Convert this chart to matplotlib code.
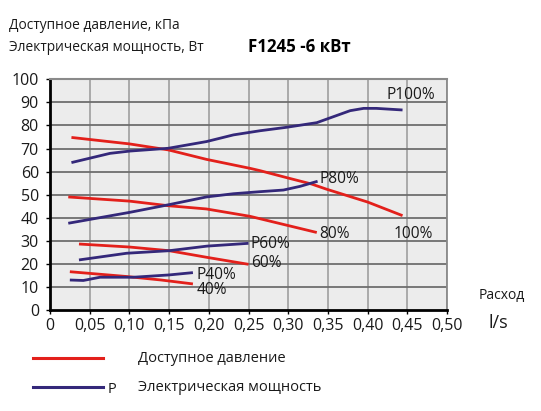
import numpy as np
import matplotlib.pyplot as plt

plt.rcParams['font.family'] = ['Open Sans', 'DejaVu Sans']

# Доступное давление (red) curves, kPa
p100_x = [0.027, 0.10, 0.149, 0.197, 0.252, 0.2645, 0.30, 0.3295, 0.348, 0.40, 0.444]
p100_y = [74.8, 72.0, 69.4, 65.3, 61.4, 60.4, 57.2, 54.6, 52.4, 46.8, 40.9]
p80_x = [0.023, 0.10, 0.149, 0.197, 0.252, 0.30, 0.336]
p80_y = [49.0, 47.2, 45.2, 43.8, 40.6, 36.6, 33.6]
p60_x = [0.0365, 0.10, 0.15, 0.198, 0.25]
p60_y = [28.6, 27.3, 25.7, 22.8, 19.8]
p40_x = [0.025, 0.097, 0.14, 0.18]
p40_y = [16.6, 14.5, 13.0, 11.3]

# Электрическая мощность (blue) curves
e100_x = [0.027, 0.0756, 0.1008, 0.149, 0.197, 0.231, 0.2645, 0.298,
          0.336, 0.357, 0.378, 0.395, 0.411, 0.444]
e100_y = [63.9, 67.9, 68.9, 70.1, 73.0, 75.9, 77.7, 79.2,
          81.2, 83.8, 86.4, 87.4, 87.4, 86.7]
e80_x = [0.023, 0.10, 0.149, 0.197, 0.231, 0.265, 0.294, 0.315, 0.337]
e80_y = [37.6, 42.3, 45.6, 49.0, 50.4, 51.3, 52.0, 53.6, 55.8]
e60_x = [0.0365, 0.0966, 0.15, 0.198, 0.25]
e60_y = [21.7, 24.6, 25.7, 27.7, 28.9]
e40_x = [0.025, 0.042, 0.063, 0.105, 0.15, 0.18]
e40_y = [13.0, 12.8, 14.2, 14.2, 15.2, 16.2]

red_curves = [(p100_x, p100_y), (p80_x, p80_y), (p60_x, p60_y), (p40_x, p40_y)]
blue_curves = [(e100_x, e100_y), (e80_x, e80_y), (e60_x, e60_y), (e40_x, e40_y)]

labels = [('P100%', 0.424, 93.4), ('100%', 0.433, 33.0),
          ('P80%', 0.339, 57.0), ('80%', 0.339, 33.0),
          ('P60%', 0.253, 28.4), ('60%', 0.253, 20.3),
          ('P40%', 0.185, 15.3), ('40%', 0.185, 8.6)]

xticks = np.arange(0, 0.501, 0.05)
yticks = np.arange(0, 101, 10)

red = '#e3201b'
blue = '#34287a'
txt = '#1a1a1a'

fig = plt.figure(figsize=(5.41, 4.11), dpi=100)
ax = fig.add_axes([50 / 541, 101 / 411, 397 / 541, 230.7 / 411])
ax.set_facecolor('#ececec')

for x, y in red_curves:
    ax.plot(x, y, color=red, lw=2.0, solid_capstyle='butt', zorder=3)
for x, y in blue_curves:
    ax.plot(x, y, color=blue, lw=2.0, solid_capstyle='butt', zorder=3)

for s, x, y in labels:
    ax.text(x, y, s, fontsize=11.2, color=txt, va='center', ha='left', zorder=4)

ax.set_xlim(0, 0.5)
ax.set_ylim(0, 100)
ax.set_xticks(xticks)
ax.set_yticks(yticks)
ax.set_xticklabels([('%.2f' % v).replace('.', ',') if v > 0 else '0' for v in xticks])
ax.set_yticklabels([str(int(v)) for v in yticks])
ax.tick_params(axis='both', labelsize=11.5, labelcolor=txt, length=3, width=1, color='black')
ax.tick_params(axis='x', pad=3)
ax.tick_params(axis='y', pad=5)

for v in xticks[1:]:
    ax.axvline(v, color='#a5a5a5', lw=1.3, zorder=1)
for v in yticks[1:]:
    ax.axhline(v, color='#6e6e6e', lw=1.3, zorder=1)

ax.spines['left'].set_color('black')
ax.spines['left'].set_linewidth(2)
ax.spines['bottom'].set_color('black')
ax.spines['bottom'].set_linewidth(2)
ax.spines['top'].set_color('#8a8a8a')
ax.spines['top'].set_linewidth(1.5)
ax.spines['right'].set_color('#8a8a8a')
ax.spines['right'].set_linewidth(1.3)

fig.text(9 / 541, 1 - 25.7 / 411, 'Доступное давление, кПа', fontsize=9.9, color=txt, va='center')
fig.text(9 / 541, 1 - 47.7 / 411, 'Электрическая мощность, Вт', fontsize=9.9, color=txt, va='center')
fig.text(248 / 541, 1 - 47 / 411, 'F1245 -6 кВт', fontsize=12.2, fontweight='bold', color='black', va='center')
fig.text(479 / 541, 1 - 295 / 411, 'Расход', fontsize=10, color=txt, va='center')
fig.text(489 / 541, 1 - 323 / 411, 'l/s', fontsize=13, color=txt, va='center')

# legend drawn by hand
fig.add_artist(plt.Line2D([33 / 541, 103 / 541], [1 - 358 / 411] * 2, color=red, lw=2.2))
fig.add_artist(plt.Line2D([33 / 541, 103 / 541], [1 - 387 / 411] * 2, color=blue, lw=2.2))
fig.text(108 / 541, 1 - 389 / 411, 'P', fontsize=10.5, color=txt, va='center')
fig.text(138 / 541, 1 - 358 / 411, 'Доступное давление', fontsize=10.5, color=txt, va='center')
fig.text(138 / 541, 1 - 387 / 411, 'Электрическая мощность', fontsize=10.5, color=txt, va='center')

fig.savefig('out.png', dpi=100)
